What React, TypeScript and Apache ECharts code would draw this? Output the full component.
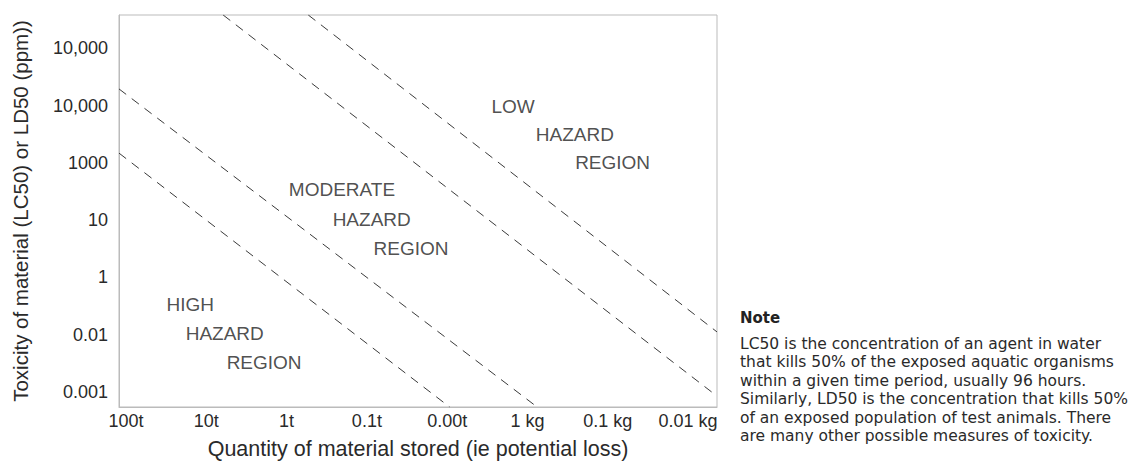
import React, { useEffect, useRef } from "react";
import * as echarts from "echarts";

const xLabels = ["100t", "10t", "1t", "0.1t", "0.00t", "1 kg", "0.1 kg", "0.01 kg"];
const yLabels = ["0.001", "0.01", "1", "10", "1000", "10,000", "10,000"];

// Boundary lines (x index, y index) endpoints
const boundary1 = [[-0.087, 4.17], [4.03, -0.26]];
const boundary2 = [[-0.087, 5.29], [5.12, -0.26]];
const boundary3 = [[1.21, 6.58], [7.36, -0.07]];
const boundary4 = [[2.27, 6.58], [7.36, 1.05]];

const regionLabels = [
  { name: "LOW", pos: [4.82, 4.99] },
  { name: "HAZARD", pos: [5.59, 4.49] },
  { name: "REGION", pos: [6.06, 4.0] },
  { name: "MODERATE", pos: [2.69, 3.53] },
  { name: "HAZARD", pos: [3.06, 3.02] },
  { name: "REGION", pos: [3.55, 2.51] },
  { name: "HIGH", pos: [0.8, 1.52] },
  { name: "HAZARD", pos: [1.23, 1.03] },
  { name: "REGION", pos: [1.72, 0.51] },
];

const noteTitle = "Note";
const noteLines = [
  "LC50 is the concentration of an agent in water",
  "that kills 50% of the exposed aquatic organisms",
  "within a given time period, usually 96 hours.",
  "Similarly, LD50 is the concentration that kills 50%",
  "of an exposed population of test animals. There",
  "are many other possible measures of toxicity.",
];

const FONT = "Liberation Sans, Arial, sans-serif";
const NOTE_FONT = "DejaVu Sans, sans-serif";

export default function App() {
  const ref = useRef<HTMLDivElement>(null);
  useEffect(() => {
    if (!ref.current) return;
    const chart = echarts.init(ref.current, undefined, { renderer: "svg" });
    const lineSeries = [boundary1, boundary2, boundary3, boundary4].map((d) => ({
      type: "line",
      data: d,
      symbol: "none",
      lineStyle: { color: "#3a3a3a", width: 1, type: [9, 7] },
      silent: true,
    }));
    chart.setOption({
      animation: false,
      grid: {
        left: 119,
        top: 15,
        width: 598,
        height: 392,
        show: true,
        borderColor: "#bbb",
        borderWidth: 1,
        containLabel: false,
        outerBoundsMode: "none",
      },
      xAxis: {
        type: "value",
        min: -0.087,
        max: 7.36,
        name: "Quantity of material stored (ie potential loss)",
        nameLocation: "middle",
        nameGap: 31,
        nameTextStyle: { fontFamily: FONT, fontSize: 21.5, color: "#2a2a2a" },
        axisLine: { show: true, onZero: false, lineStyle: { color: "#bbb" } },
        axisTick: { show: false },
        splitLine: { show: false },
        axisLabel: {
          customValues: [0, 1, 2, 3, 4, 5, 6, 7],
          formatter: (v: number) => xLabels[Math.round(v)] ?? "",
          fontFamily: FONT,
          fontSize: 18,
          color: "#2a2a2a",
          margin: 5,
        },
      },
      yAxis: {
        type: "value",
        min: -0.26,
        max: 6.58,
        name: "Toxicity of material (LC50) or LD50 (ppm))",
        nameLocation: "middle",
        nameGap: 88,
        nameTextStyle: { fontFamily: FONT, fontSize: 20.5, color: "#2a2a2a" },
        axisLine: { show: true, onZero: false, lineStyle: { color: "#bbb" } },
        axisTick: { show: false },
        splitLine: { show: false },
        axisLabel: {
          customValues: [0, 1, 2, 3, 4, 5, 6],
          formatter: (v: number) => yLabels[Math.round(v)] ?? "",
          fontFamily: FONT,
          fontSize: 18,
          color: "#2a2a2a",
          margin: 11,
        },
      },
      series: [
        ...lineSeries,
        {
          type: "scatter",
          symbolSize: 0,
          silent: true,
          data: regionLabels.map((r) => ({ name: r.name, value: r.pos })),
          label: {
            show: true,
            position: "inside",
            formatter: (p: any) => p.name,
            fontFamily: FONT,
            fontSize: 19,
            color: "#222",
          },
        },
      ],
      graphic: [
        {
          type: "text",
          left: 740,
          top: 310,
          style: { text: noteTitle, fontFamily: NOTE_FONT, fontWeight: "bold", fontSize: 15, fill: "#222" },
        },
        ...noteLines.map((line, i) => ({
          type: "text",
          left: 740,
          top: 336 + i * 18.4,
          style: {
            text: line,
            fontFamily: NOTE_FONT,
            fontSize: 15.5,
            fill: "#2a2a2a",
          },
        })),
      ],
    });
    return () => chart.dispose();
  }, []);
  return <div ref={ref} style={{ position: "absolute", left: 0, top: 0, width: 1137, height: 470 }} />;
}
